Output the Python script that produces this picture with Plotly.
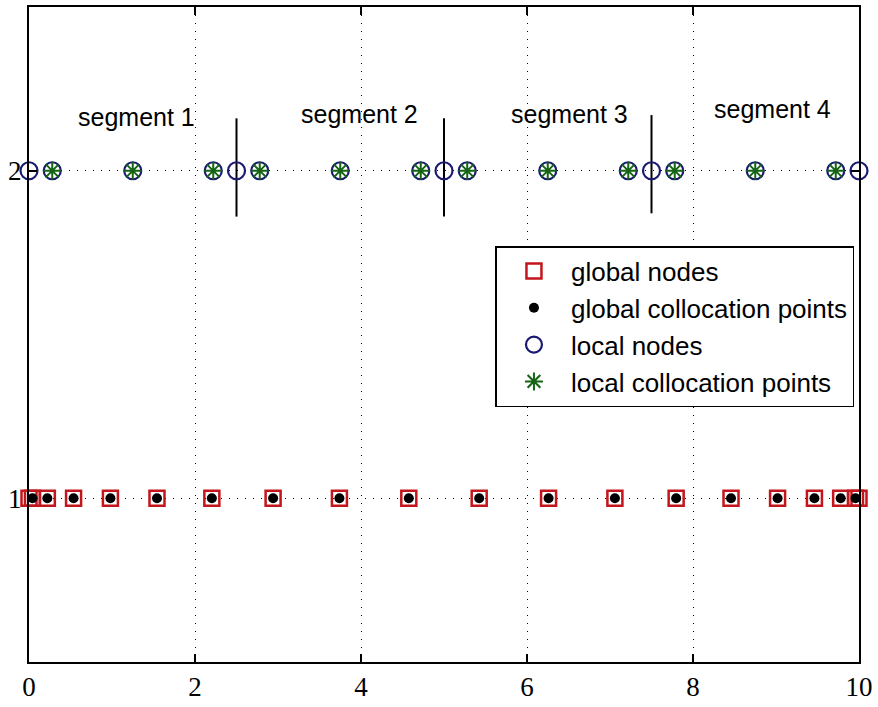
import plotly.graph_objects as go

# ---- data ----------------------------------------------------------------
# global collocation points (18) on [0, 10]
global_colloc_x = [0.042, 0.221, 0.537, 0.981, 1.542, 2.203, 2.941, 3.740, 4.576,
                   5.424, 6.260, 7.059, 7.797, 8.458, 9.019, 9.463, 9.779, 9.958]
# global nodes: end points plus the collocation points
global_nodes_x = [0.0] + global_colloc_x + [10.0]
global_level = 1

# local (segment-wise) nodes and collocation points
local_nodes_x = [0.0, 2.5, 5.0, 7.5, 10.0]
local_colloc_x = [0.28, 1.25, 2.22, 2.78, 3.75, 4.72,
                  5.28, 6.25, 7.22, 7.78, 8.75, 9.72]
local_level = 2

# segment boundary markers (vertical bars) and their extents
boundary_x = [2.5, 5.0, 7.5]
boundary_lo = [1.86, 1.86, 1.87]
boundary_hi = [2.16, 2.16, 2.17]

# segment labels
segment_labels = ["segment 1", "segment 2", "segment 3", "segment 4"]
segment_label_x = [1.30, 3.98, 6.51, 8.96]
segment_label_y = [2.165, 2.172, 2.172, 2.19]

x_ticks = [0, 2, 4, 6, 8, 10]
y_ticks = [1, 2]

# ---- styles --------------------------------------------------------------
RED = "#c3161c"
NAVY = "#1a1a72"
GREEN = "#146414"
SANS = "Liberation Sans, Arial, sans-serif"
SERIF = "Liberation Serif, Times New Roman, serif"

fig = go.Figure()

# segment boundaries
bx, by = [], []
for x, lo, hi in zip(boundary_x, boundary_lo, boundary_hi):
    bx += [x, x, None]
    by += [lo, hi, None]
fig.add_trace(go.Scatter(x=bx, y=by, mode="lines", showlegend=False,
                         line=dict(color="black", width=2), hoverinfo="skip"))

# global nodes (open red squares)
fig.add_trace(go.Scatter(
    x=global_nodes_x, y=[global_level] * len(global_nodes_x), mode="markers",
    name="global nodes", legendgroup="g1", cliponaxis=False,
    marker=dict(symbol="square-open", size=15, color=RED, line=dict(width=2.5, color=RED))))

# global collocation points (black dots)
fig.add_trace(go.Scatter(
    x=global_colloc_x, y=[global_level] * len(global_colloc_x), mode="markers",
    name="global collocation points", legendgroup="g2", cliponaxis=False,
    marker=dict(symbol="circle", size=10, color="black")))

# local nodes (open navy circles)
fig.add_trace(go.Scatter(
    x=local_nodes_x, y=[local_level] * len(local_nodes_x), mode="markers",
    name="local nodes", legendgroup="g3", cliponaxis=False,
    marker=dict(symbol="circle-open", size=17, color=NAVY, line=dict(width=2.2, color=NAVY))))

# circles drawn around the local collocation points
fig.add_trace(go.Scatter(
    x=local_colloc_x, y=[local_level] * len(local_colloc_x), mode="markers",
    showlegend=False, hoverinfo="skip", cliponaxis=False,
    marker=dict(symbol="circle-open", size=17, color=NAVY, line=dict(width=2.2, color=NAVY))))

# local collocation points (green asterisks)
fig.add_trace(go.Scatter(
    x=local_colloc_x, y=[local_level] * len(local_colloc_x), mode="markers",
    name="local collocation points", legendgroup="g4", cliponaxis=False,
    marker=dict(symbol="asterisk-open", size=15, color=GREEN, line=dict(width=2, color=GREEN))))

for txt, x, y in zip(segment_labels, segment_label_x, segment_label_y):
    fig.add_annotation(x=x, y=y, text=txt, showarrow=False,
                       font=dict(family=SANS, size=25, color="black"))

axis_common = dict(
    showline=True, linecolor="black", linewidth=2, mirror="ticks",
    ticks="inside", ticklen=8, tickwidth=1.5, tickcolor="black",
    showgrid=True, gridcolor="black", gridwidth=1, griddash="1px,7px",
    zeroline=False,
    tickfont=dict(family=SERIF, size=27, color="black"),
)

fig.update_xaxes(range=[0, 10], tickvals=x_ticks, ticktext=[str(t) for t in x_ticks],
                 **axis_common)
fig.update_yaxes(range=[0.5, 2.5], tickvals=y_ticks, ticktext=[str(t) for t in y_ticks],
                 ticklabelstandoff=0, **axis_common)

fig.update_layout(
    width=878, height=707,
    margin=dict(l=29, r=16, t=5, b=40),
    paper_bgcolor="white", plot_bgcolor="white",
    showlegend=True,
    legend=dict(
        x=0.562, y=0.635, xanchor="left", yanchor="top",
        bgcolor="white", bordercolor="black", borderwidth=1.5,
        font=dict(family=SANS, size=26, color="black"),
        tracegroupgap=0, itemwidth=64,
    ),
)

fig.write_html("out.html")
